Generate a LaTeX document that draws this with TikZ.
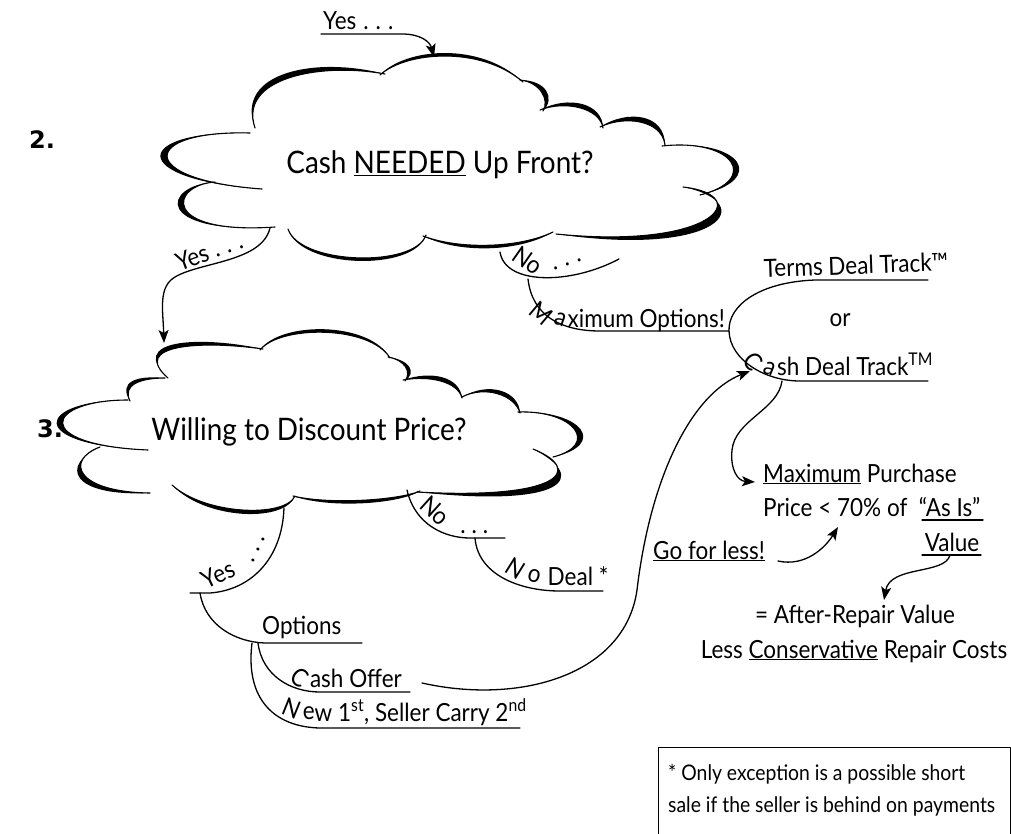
\documentclass[tikz,border=0pt]{standalone}
\usepackage{fontspec}
\setmainfont{Lato}[FakeStretch=0.9]
\newfontfamily\numfont{DejaVu Sans}
\usetikzlibrary{calc,arrows.meta}
\newcommand{\lobe}[5]{%
  \fill #1 .. controls #2 and #3 .. #4 .. controls ($#3+#5$) and ($#2+#5$) .. #1;
  \draw[line width=1.1pt] #1 .. controls #2 and #3 .. #4;}
\newcommand{\dotsx}{.\hspace{7pt}.\hspace{7pt}.}
\begin{document}
\begin{tikzpicture}[x=1pt,y=-1pt,line cap=round,line join=round,
  conn/.style={line width=1.3pt},
  arr/.style={conn,-{Stealth[length=13pt,width=10pt,inset=3pt]}},
  lbl/.style={inner sep=0pt,font=\fontsize{25}{29}\selectfont},
  ctext/.style={inner sep=0pt,font=\fontsize{31}{35}\selectfont},
  foot/.style={inner sep=0pt,font=\fontsize{21.5}{32}\selectfont,align=left},
  num/.style={inner sep=0pt,font=\numfont\bfseries\fontsize{24}{26}\selectfont}]
\fill[white] (0,0) rectangle (1011,833);
\useasboundingbox (0,0) rectangle (1011,833);

% ---------- cloud 1 ----------
\lobe{(255,128)}{(238,78)}{(320,62)}{(385,74)}{(-4,-6)}
\lobe{(380,75)}{(405,52)}{(480,45)}{(523,82)}{(0,-4)}
\lobe{(520,80)}{(540,82)}{(550,100)}{(543,111)}{(6,-2)}
\lobe{(540,110)}{(565,100)}{(600,108)}{(603,128)}{(3,-5)}
\lobe{(600,127)}{(625,115)}{(662,120)}{(665,145)}{(3,-6)}
\lobe{(662,146)}{(735,138)}{(760,180)}{(700,195)}{(8,0)}
\lobe{(683,187)}{(755,195)}{(715,250)}{(556,234)}{(6,8)}
\lobe{(553,232)}{(520,248)}{(460,250)}{(423,236)}{(0,4)}
\lobe{(426,235)}{(415,268)}{(300,265)}{(288,229)}{(0,4)}
\lobe{(275,227)}{(160,235)}{(170,185)}{(215,182)}{(-8,0)}
\lobe{(262,189)}{(135,180)}{(140,130)}{(250,133)}{(-9,0)}
\node[ctext] (q1) at (440,165) {Cash \underline{NEEDED} Up Front?};
\node[num] (n2) at (42,140) {2.};

% ---------- cloud 2 ----------
\lobe{(168,378)}{(130,345)}{(200,340)}{(263,349)}{(-3,-5)}
\lobe{(260,350)}{(280,325)}{(370,325)}{(390,358)}{(0,-4)}
\lobe{(388,357)}{(405,360)}{(412,372)}{(405,381)}{(5,0)}
\lobe{(403,380)}{(430,375)}{(458,382)}{(462,398)}{(2,-5)}
\lobe{(462,397)}{(485,385)}{(515,395)}{(520,413)}{(4,-4)}
\lobe{(518,412)}{(575,410)}{(600,445)}{(553,457)}{(8,0)}
\lobe{(533,449)}{(585,470)}{(560,500)}{(417,492)}{(5,8)}
\lobe{(420,491)}{(400,500)}{(330,505)}{(293,496)}{(0,4)}
\lobe{(295,496)}{(285,518)}{(205,515)}{(172,485)}{(0,5)}
\lobe{(100,447)}{(65,460)}{(75,492)}{(150,493)}{(-5,5)}
\lobe{(148,450)}{(30,445)}{(45,400)}{(128,400)}{(-8,0)}
\lobe{(130,401)}{(122,385)}{(140,378)}{(165,378)}{(-4,-3)}
\node[ctext] (q2) at (309,432) {Willing to Discount Price?};
\node[num] (n3) at (50,429) {3.};

% ---------- top Yes ----------
\node[lbl,anchor=base west] (yes1) at (323,29) {Yes\hspace{7pt}\dotsx};
\coordinate (y1a) at (321,34);
\coordinate (c1top) at (434,57);
\draw[arr] (y1a) -- (402,34) .. controls (421,34) and (430,42) .. (c1top);

% ---------- Yes from cloud 1 to cloud 2 ----------
\coordinate (c1bl) at (270,228);
\coordinate (c2top) at (164,343);
\draw[arr] (c1bl) .. controls (262,262) and (200,262) .. (175,277) .. controls (158,287) and (163,310) .. (c2top);
\node[lbl,rotate=20] (yes2) at (209,251) {Yes\hspace{6pt}\dotsx};

% ---------- No from cloud 1 ----------
\coordinate (c1br) at (500,252);
\coordinate (no1m) at (528,279);
\coordinate (no1e) at (619,259);
\draw[conn] (c1br) .. controls (505,285) and (570,285) .. (no1e);
\node[lbl,anchor=base west] (no1) at (510,259) {\rotatebox{-35}{No}\hspace{8pt}\raisebox{-11pt}{\rotatebox{18}{\dotsx}}};

% Maximum Options!
\coordinate (mo) at (729,331);
\draw[conn] (no1m) .. controls (532,315) and (560,331) .. (600,331) -- (mo);
\node[lbl,anchor=base east] (maxopt) at (725,327) {\raisebox{14pt}{\rotatebox{-40}{M}}\kern-2pt\raisebox{4pt}{\rotatebox{-20}{a}}ximum Options!};

% bracket
\coordinate (bt) at (928,280);
\coordinate (bb) at (928,381);
\draw[conn] (bt) -- (815,280) .. controls (760,282) and (728,305) .. (mo) .. controls (730,360) and (765,381) .. (800,381) -- (bb);
\node[lbl,rotate=2] (terms) at (856,265) {Terms Deal Track™};
\node[lbl] (or) at (840,320) {or};
\node[lbl,anchor=base west] (cashtrack) at (741,375) {\raisebox{14pt}{\rotatebox{-50}{C}}\kern-3pt\raisebox{3pt}{\rotatebox{-22}{a}}sh Deal Track\textsuperscript{TM}};

% to Maximum Purchase
\coordinate (bbs) at (782,381);
\coordinate (mp) at (755,482);
\draw[arr] (bbs) .. controls (778,410) and (735,420) .. (732,450) .. controls (730,470) and (738,481) .. (mp);
\node[lbl,anchor=base west] (maxp) at (763,482) {\underline{Maximum} Purchase};
\node[lbl,anchor=base west] (price) at (763,516) {Price < 70\% of\ \ ``As Is''};
\node[lbl,anchor=base] (value) at (952,551) {Value};
\coordinate (asl) at (922,520); \coordinate (asr) at (983,520);
\draw[conn] (asl) -- (asr);
\coordinate (vl) at (922,555); \coordinate (vr) at (981,555);
\draw[conn] (vl) -- (vr);
\coordinate (vm) at (950,555);
\coordinate (arv) at (884,600);
\draw[arr] (vm) .. controls (945,575) and (890,565) .. (arv);
\node[lbl,anchor=base] (after) at (855,623) {= After-Repair Value};
\node[lbl,anchor=base] (less) at (854,658) {Less \underline{Conservative} Repair Costs};

% Go for less!
\node[lbl,anchor=base west] (go) at (653,559) {\underline{Go for less!}};
\coordinate (gos) at (778,561);
\coordinate (got) at (838,527);
\draw[arr] (gos) .. controls (805,567) and (825,548) .. (got);

% ---------- No from cloud 2 ----------
\coordinate (c2br) at (407,490);
\coordinate (no2m) at (475,538);
\coordinate (no2e) at (505,538);
\draw[conn] (c2br) .. controls (415,525) and (445,538) .. (470,538) -- (no2e);
\node[lbl,anchor=base west] (no2) at (418,507) {\rotatebox{-42}{No}\hspace{8pt}\raisebox{-26pt}{.\hspace{6pt}.\hspace{6pt}.}};
\coordinate (nd) at (603,591);
\draw[conn] (no2m) .. controls (478,575) and (520,591) .. (560,591) -- (nd);
\node[lbl,anchor=base west] (nodeal) at (503,585) {\raisebox{14pt}{\rotatebox{-32}{N}}\kern-1pt\raisebox{5pt}{\rotatebox{-15}{o}} Deal *};

% ---------- Yes from cloud 2 ----------
\coordinate (c2bl) at (284,508);
\coordinate (yse) at (190,593);
\draw[conn] (c2bl) .. controls (282,560) and (250,590) .. (210,593) -- (yse);
\node[lbl,anchor=base west] (yes3) at (199,589) {\rotatebox{25}{Yes}\hspace{14pt}\raisebox{26pt}{\rotatebox{65}{.\hspace{6pt}.\hspace{6pt}.}}};

% Options
\coordinate (ys) at (200,593);
\coordinate (ope) at (362,643);
\draw[conn] (ys) .. controls (205,625) and (235,642) .. (265,643) -- (ope);
\node[lbl,anchor=base west] (options) at (262,634) {Options};
\coordinate (o1) at (258,643);
\coordinate (coe) at (410,692);
\draw[conn] (o1) .. controls (262,675) and (290,692) .. (320,692) -- (coe);
\node[lbl,anchor=base west] (cashoffer) at (288,687) {\raisebox{7pt}{\rotatebox{-35}{C}}\kern-1pt ash Offer};
\coordinate (o2) at (252,643);
\coordinate (nwe) at (520,728);
\draw[conn] (o2) .. controls (245,700) and (275,727) .. (320,728) -- (nwe);
\node[lbl,anchor=base west] (newfirst) at (280,721) {\raisebox{8pt}{\rotatebox{-22}{N}}\raisebox{2pt}{e}w 1\textsuperscript{st}, Seller Carry 2\textsuperscript{nd}};

% long connector: Cash Offer -> Cash Deal Track
\coordinate (cos) at (422,683);
\coordinate (cdt) at (750,371);
\draw[arr] (cos) .. controls (520,705) and (625,675) .. (637,590) .. controls (650,480) and (690,395) .. (cdt);

% ---------- footnote box ----------
\coordinate (fb1) at (658,747);
\coordinate (fb2) at (1010,840);
\draw[line width=0.9pt] (fb1) rectangle (fb2);
\node[foot,anchor=north west] (foot) at (668,764) {* Only exception is a possible short\\sale if the seller is behind on payments};
\end{tikzpicture}
\end{document}
